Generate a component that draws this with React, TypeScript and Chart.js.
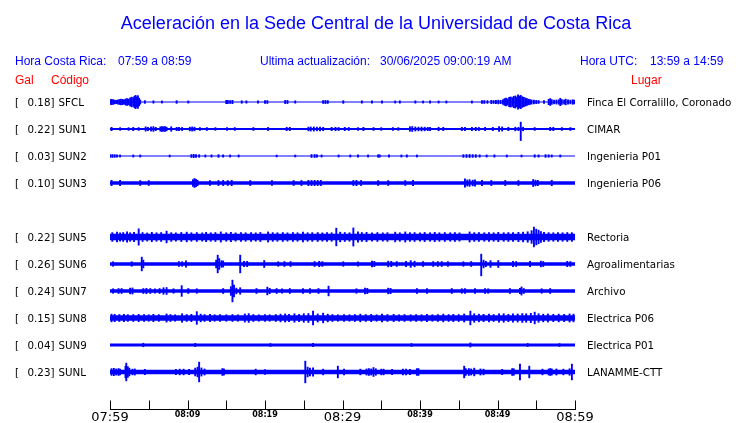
import { useEffect, useRef } from 'react';
import { Chart, registerables } from 'chart.js';

Chart.register(...registerables);

type Burst = [number, number, number?];

const TITLE = 'Aceleración en la Sede Central de la Universidad de Costa Rica';
const LOCAL_RANGE = '07:59 a 08:59';
const UTC_RANGE = '13:59 a 14:59';
const UPDATED = '30/06/2025 09:00:19 AM';

const CODES = ['SFCL', 'SUN1', 'SUN2', 'SUN3', 'SUN5', 'SUN6', 'SUN7', 'SUN8', 'SUN9', 'SUNL'];
const PEAK_GAL = ['0.18', '0.22', '0.03', '0.10', '0.22', '0.26', '0.24', '0.15', '0.04', '0.23'];
const PLACES = [
  'Finca El Corralillo, Coronado',
  'CIMAR',
  'Ingenieria P01',
  'Ingenieria P06',
  'Rectoria',
  'Agroalimentarias',
  'Archivo',
  'Electrica P06',
  'Electrica P01',
  'LANAMME-CTT',
];
// trace slot (slot 4 is empty)
const ROW_SLOTS = [0, 1, 2, 3, 5, 6, 7, 8, 9, 10];
const ROW_SPACING = 27;
// background noise half-amplitude per station (display units)
const BASE_AMP = [0.6, 1.0, 0.5, 1.8, 3.3, 1.8, 1.8, 2.7, 1.6, 2.2];

// time axis, minutes after 07:59
const TICK_MINUTES = [0, 5, 10, 15, 20, 25, 30, 35, 40, 45, 50, 55, 60];
const TICK_LABELS = ['07:59', '', '08:09', '', '08:19', '', '08:29', '', '08:39', '', '08:49', '', '08:59'];
const BIG_TICKS = [0, 6, 12];

// bursts: [minute, half-amplitude up, half-amplitude down (optional)]
const SFCL_BURSTS: Burst[] = [
  [0, 2.5], [0.2, 2.8], [0.4, 2.6], [0.6, 2.0], [0.8, 1.8], [1.0, 2.2], [1.2, 2.6], [1.4, 3.0], [1.6, 2.8], [1.8, 2.4],
  [2.0, 3.2], [2.2, 3.6], [2.4, 3.0], [2.6, 4.2], [2.8, 5.0], [3.0, 4.4], [3.15, 5.8], [3.3, 6.8], [3.45, 5.2], [3.6, 6.5],
  [3.75, 4.0], [3.9, 2.2], [4.5, 1.5], [5.6, 1.3], [6.7, 1.2], [8.6, 1.5], [10.1, 1.2], [15.0, 1.8], [15.2, 1.8], [15.5, 1.6],
  [15.8, 1.8], [17.0, 1.4], [17.6, 1.3], [19.1, 1.3], [20.0, 1.6], [20.3, 1.6], [22.6, 1.7], [22.9, 1.7], [23.9, 1.3], [27.5, 1.6],
  [27.8, 1.7], [28.1, 1.6], [30.1, 1.5], [32.5, 1.3], [33.8, 1.2], [35.1, 1.3], [36.8, 1.2], [37.4, 1.3], [39.4, 1.3], [40.4, 1.2],
  [41.3, 1.3], [42.4, 1.2], [43.4, 1.2], [46.7, 1.2], [48.0, 1.6], [48.3, 1.6], [48.7, 1.5], [49.2, 1.8], [49.5, 1.6], [49.8, 1.8],
  [50.1, 2.0], [50.4, 1.8], [50.7, 2.5], [50.9, 3.5], [51.1, 4.0], [51.3, 3.2], [51.5, 4.8], [51.7, 5.2], [51.9, 4.5], [52.1, 5.8],
  [52.3, 6.2], [52.5, 5.0], [52.65, 7.2], [52.8, 6.0], [53.0, 6.8], [53.2, 5.5], [53.4, 4.8], [53.6, 4.2], [53.8, 3.6], [54.0, 3.0],
  [54.2, 2.6], [54.4, 2.2], [54.7, 2.0], [55.0, 1.8], [55.3, 1.6], [56.0, 1.5], [56.6, 2.8], [56.8, 3.6], [57.0, 2.5], [57.3, 2.0],
  [57.6, 2.2], [57.9, 2.4], [58.1, 3.8], [58.3, 2.6], [58.6, 2.2], [58.8, 3.0], [59.1, 2.3], [59.4, 2.0], [59.7, 2.4], [59.9, 2.0],
];
const SUN1_BURSTS: Burst[] = [
  [0.2, 1.8], [1.3, 1.5], [2.4, 1.5], [3.0, 1.8], [3.7, 1.6], [4.6, 2.3], [4.9, 1.8], [5.3, 2.2], [5.6, 2.5], [5.9, 1.8],
  [6.5, 2.3], [6.7, 2.6], [6.9, 2.4], [7.1, 2.6], [7.3, 2.0], [7.9, 2.4], [8.6, 1.8], [8.9, 1.8], [9.3, 1.7], [10.3, 2.0],
  [10.6, 2.2], [10.9, 2.0], [11.6, 1.6], [12.5, 1.6], [13.6, 1.5], [15.1, 1.6], [16.1, 1.6], [18.5, 1.6], [20.4, 1.7], [22.8, 1.8],
  [23.2, 1.8], [25.6, 2.0], [25.9, 2.2], [26.3, 2.2], [26.7, 2.0], [27.1, 2.1], [27.5, 1.8], [28.6, 1.8], [29.1, 1.9], [29.5, 1.7],
  [30.3, 1.8], [30.8, 1.7], [32.0, 1.6], [32.7, 1.8], [34.0, 1.6], [35.0, 1.5], [36.5, 1.6], [37.2, 1.5], [38.7, 2.4], [39.0, 2.6],
  [39.4, 2.2], [39.8, 2.0], [40.2, 2.1], [40.6, 2.0], [41.0, 1.8], [41.3, 1.8], [42.4, 1.9], [43.0, 1.8], [45.4, 1.8], [45.8, 1.9],
  [46.7, 1.8], [47.2, 1.8], [47.6, 1.7], [48.4, 1.8], [49.4, 1.8], [50.2, 2.6], [50.6, 2.2], [51.4, 1.8], [52.3, 2.0], [52.7, 1.8],
  [53.0, 7.0, 11.7], [53.3, 2.0], [54.8, 1.6], [56.8, 1.8], [57.2, 1.8], [58.3, 1.6], [59.4, 1.6],
];
const SUN2_BURSTS: Burst[] = [
  [0.0, 1.6], [0.3, 1.6], [0.6, 1.5], [0.9, 1.3], [1.3, 1.2], [3.0, 1.2], [3.9, 1.2], [7.7, 1.1], [10.5, 1.6], [10.8, 1.8],
  [11.1, 1.6], [11.5, 1.4], [12.3, 1.2], [13.1, 1.3], [14.0, 1.5], [14.6, 1.3], [15.5, 1.2], [16.6, 1.2], [21.5, 1.1], [23.9, 1.1],
  [26.0, 1.6], [26.4, 1.7], [26.7, 1.4], [27.3, 1.2], [29.5, 1.2], [31.0, 1.2], [32.0, 1.3], [33.3, 1.2], [34.6, 1.4], [34.8, 1.3],
  [36.0, 1.3], [37.6, 1.2], [38.3, 1.3], [39.6, 1.2], [45.6, 1.5], [46.0, 1.6], [46.4, 1.7], [46.8, 1.5], [47.2, 1.5], [47.7, 1.3],
  [48.6, 1.2], [49.6, 1.3], [51.2, 1.2], [53.1, 1.1], [54.8, 1.4], [55.3, 1.3], [56.2, 1.5], [56.6, 1.4], [57.0, 1.2], [58.1, 1.2],
];
const SUN3_BURSTS: Burst[] = [
  [0.2, 2.8], [1.3, 2.8], [3.9, 2.6], [5.0, 2.6], [10.7, 3.5], [10.9, 4.6], [11.1, 3.8], [11.3, 2.8], [12.9, 2.6], [14.0, 2.7],
  [14.6, 2.7], [15.2, 2.6], [15.7, 2.8], [18.1, 2.7], [20.9, 2.6], [23.7, 2.6], [24.7, 2.7], [25.6, 2.8], [26.0, 2.7], [26.4, 2.8],
  [26.8, 2.7], [27.2, 2.8], [31.4, 2.7], [31.8, 2.8], [32.4, 2.7], [34.6, 2.6], [35.9, 2.6], [38.1, 2.6], [39.1, 2.7], [45.8, 4.2],
  [46.1, 3.2], [46.4, 3.5], [46.8, 3.0], [47.1, 3.2], [48.0, 2.8], [49.2, 2.7], [51.0, 2.7], [52.7, 2.6], [54.6, 3.6], [54.9, 3.0],
  [55.2, 2.8], [57.0, 2.9],
];
const SUN5_BURSTS: Burst[] = [
  [0.3, 4.5], [0.9, 5.0], [1.3, 4.3], [1.7, 4.6], [2.2, 5.2], [2.6, 4.4], [3.1, 4.8], [3.7, 8.3], [4.2, 4.6], [4.8, 4.2],
  [5.4, 4.8], [6.0, 4.4], [6.6, 4.6], [7.3, 6.0], [7.9, 4.5], [8.5, 4.3], [9.2, 4.7], [9.9, 5.0], [10.5, 4.4], [11.2, 4.6],
  [11.9, 4.3], [12.4, 4.8], [13.0, 4.4], [13.6, 4.6], [14.3, 5.2], [15.0, 4.4], [15.6, 4.8], [16.2, 4.3], [16.9, 4.6], [17.5, 4.4],
  [18.2, 4.6], [18.8, 4.3], [19.4, 4.7], [20.4, 5.2], [21.0, 4.5], [21.6, 4.4], [22.3, 4.6], [22.9, 4.3], [23.6, 4.6], [24.2, 4.4],
  [24.9, 5.0], [25.5, 4.4], [26.1, 4.5], [26.8, 4.6], [27.4, 4.3], [28.0, 4.6], [28.6, 4.4], [29.2, 9.0], [29.7, 5.0], [30.3, 4.6],
  [30.9, 4.4], [31.4, 9.2], [32.0, 5.4], [32.5, 4.6], [33.1, 4.8], [33.8, 4.4], [34.5, 4.6], [35.2, 4.3], [35.8, 4.5], [36.8, 5.0],
  [37.4, 4.4], [38.1, 5.2], [38.7, 4.5], [39.3, 4.6], [40.0, 4.4], [40.6, 4.7], [41.3, 4.4], [41.9, 4.8], [42.5, 4.4], [43.2, 4.6],
  [43.9, 4.4], [44.5, 4.6], [45.1, 4.3], [46.4, 5.2], [47.0, 4.5], [47.6, 4.6], [48.3, 4.4], [48.9, 4.6], [49.5, 4.4], [50.1, 4.8],
  [50.8, 4.4], [51.4, 4.6], [52.0, 4.5], [52.7, 4.8], [53.3, 5.0], [53.9, 5.4], [54.4, 6.5], [54.7, 10.0], [55.0, 8.0], [55.3, 7.0],
  [55.6, 5.6], [56.0, 4.8], [56.6, 4.5], [57.2, 4.4], [57.8, 4.6], [58.4, 4.4], [59.0, 4.6], [59.6, 4.5],
];
const SUN6_BURSTS: Burst[] = [
  [0.4, 2.4], [2.8, 2.4], [4.1, 7.0], [4.3, 4.0], [8.9, 2.6], [9.3, 2.4], [9.8, 3.4], [13.7, 4.0], [13.9, 9.0], [14.1, 5.5],
  [14.4, 3.4], [14.6, 3.2], [16.8, 9.0], [17.3, 2.8], [17.7, 2.8], [19.9, 3.6], [21.7, 2.4], [22.5, 2.6], [23.3, 2.6], [26.4, 2.6],
  [27.0, 2.8], [27.4, 2.5], [30.1, 2.4], [32.0, 2.4], [33.8, 3.0], [34.1, 2.8], [35.9, 3.0], [36.3, 2.8], [37.0, 2.6], [38.2, 2.8],
  [38.8, 3.5], [39.3, 3.0], [40.4, 2.6], [41.7, 2.6], [42.3, 2.6], [42.8, 2.6], [43.6, 2.5], [45.6, 2.4], [46.6, 2.6], [47.9, 10.0, 12.0],
  [48.2, 4.0], [48.5, 2.8], [49.1, 3.5], [50.1, 3.6], [52.0, 2.8], [52.4, 2.6], [54.2, 2.8], [55.6, 3.0], [55.9, 2.6], [59.0, 2.8],
  [59.4, 2.6],
];
const SUN7_BURSTS: Burst[] = [
  [0.4, 2.4], [1.1, 2.6], [1.5, 2.6], [2.6, 3.0], [2.9, 3.2], [4.3, 2.6], [4.7, 2.8], [5.2, 2.6], [5.8, 2.4], [6.4, 2.6],
  [6.9, 3.4], [7.3, 3.6], [8.2, 2.4], [9.25, 5.5], [10.1, 2.6], [11.2, 2.4], [14.6, 2.6], [15.6, 4.5], [15.8, 11.0], [16.0, 6.0],
  [16.3, 3.0], [16.8, 3.4], [18.9, 2.6], [20.3, 4.0], [20.6, 2.8], [21.5, 2.6], [22.2, 2.4], [23.2, 2.6], [24.9, 2.6], [25.8, 2.6],
  [26.9, 2.6], [28.2, 5.0], [31.8, 2.4], [32.9, 3.0], [33.2, 2.8], [35.9, 3.0], [36.2, 2.8], [39.6, 2.6], [40.9, 2.6], [44.1, 2.6],
  [45.4, 2.4], [45.8, 2.6], [47.1, 2.6], [48.4, 2.6], [48.8, 2.4], [51.6, 2.6], [52.9, 2.8], [53.1, 4.2], [53.4, 2.6], [55.7, 2.4],
  [56.8, 2.6],
];
const SUN8_BURSTS: Burst[] = [
  [0.2, 4.0], [0.6, 3.8], [1.2, 3.6], [1.8, 3.8], [2.3, 3.5], [3.0, 3.6], [3.7, 3.8], [4.4, 3.6], [5.0, 3.4], [5.6, 3.8],
  [6.3, 3.5], [7.3, 4.2], [7.8, 3.6], [8.4, 3.4], [9.3, 4.4], [9.9, 3.6], [10.5, 3.8], [11.2, 6.5], [11.7, 4.0], [12.2, 3.6],
  [12.9, 3.8], [13.5, 3.4], [14.2, 3.6], [15.0, 3.4], [15.8, 3.6], [16.5, 3.4], [17.4, 4.2], [17.9, 4.5], [18.5, 3.6], [19.2, 3.4],
  [20.0, 3.6], [20.6, 3.4], [21.4, 3.6], [22.0, 4.0], [22.6, 4.2], [23.1, 3.8], [23.8, 4.4], [24.4, 3.8], [25.0, 4.4], [25.6, 4.6],
  [26.2, 7.0], [26.8, 4.2], [27.5, 5.0], [28.1, 4.0], [28.7, 3.6], [29.4, 3.4], [30.2, 3.6], [30.9, 3.4], [31.6, 3.6], [32.3, 4.0],
  [33.0, 3.6], [33.7, 3.8], [34.4, 3.4], [35.1, 4.0], [35.8, 3.6], [36.6, 3.8], [37.3, 3.4], [38.0, 3.6], [38.8, 3.4], [39.5, 3.6],
  [40.2, 3.4], [40.9, 3.8], [41.6, 3.4], [42.3, 3.6], [43.0, 4.0], [43.7, 3.6], [44.3, 3.8], [45.0, 3.6], [45.7, 4.2], [46.5, 7.0],
  [47.0, 4.4], [47.6, 4.0], [48.2, 3.8], [48.9, 4.0], [49.5, 3.6], [50.2, 4.2], [50.8, 4.4], [51.4, 3.8], [52.0, 4.4], [52.6, 4.2],
  [53.2, 4.6], [53.7, 4.4], [54.3, 4.8], [54.8, 6.0], [55.3, 4.4], [55.9, 4.0], [56.5, 4.2], [57.2, 3.8], [57.9, 4.0], [58.6, 3.8],
  [59.3, 4.2], [59.8, 4.0],
];
const SUN9_BURSTS: Burst[] = [
  [4.3, 1.9], [11.0, 1.8], [20.7, 1.6], [26.2, 1.7], [38.9, 1.6], [46.5, 2.2], [53.9, 1.7], [58.0, 1.6],
];
const SUNL_BURSTS: Burst[] = [
  [0.2, 3.5], [0.5, 3.8], [0.8, 3.2], [1.1, 3.6], [1.3, 3.0], [2.0, 6.0], [2.1, 9.0], [2.3, 5.5], [2.5, 4.0], [2.9, 3.0],
  [3.2, 3.2], [4.5, 2.8], [8.5, 2.8], [9.0, 3.0], [9.5, 3.0], [10.2, 2.8], [11.0, 4.0], [11.3, 5.0], [11.5, 10.0], [11.8, 4.2],
  [12.2, 3.2], [14.5, 3.6], [14.7, 3.2], [18.8, 3.0], [20.0, 2.6], [25.2, 11.0], [25.5, 5.0], [25.8, 4.0], [26.2, 4.2], [27.5, 3.0],
  [29.4, 6.0], [30.2, 3.0], [32.3, 3.0], [33.1, 3.2], [33.4, 3.6], [33.7, 3.2], [34.0, 4.6], [34.3, 3.4], [35.0, 3.0], [35.3, 3.0],
  [36.4, 2.8], [37.8, 3.0], [38.2, 3.0], [38.7, 2.8], [39.6, 3.5], [39.8, 3.6], [45.7, 6.0], [45.9, 3.6], [46.3, 3.6], [46.6, 3.2],
  [47.0, 4.0], [47.8, 3.2], [48.2, 3.0], [50.6, 2.8], [51.9, 3.6], [52.1, 3.4], [52.9, 8.0], [54.1, 6.0], [55.8, 3.0], [56.6, 3.2],
  [56.8, 3.6], [57.0, 3.2], [57.6, 3.2], [58.5, 3.0], [59.3, 3.4], [59.6, 8.0],
];
const BURSTS: Burst[][] = [
  SFCL_BURSTS, SUN1_BURSTS, SUN2_BURSTS, SUN3_BURSTS, SUN5_BURSTS,
  SUN6_BURSTS, SUN7_BURSTS, SUN8_BURSTS, SUN9_BURSTS, SUNL_BURSTS,
];

const BLUE = '#0000ff';
const RED = '#ff0000';

const textPlugin = {
  id: 'seismoText',
  afterDraw(chart: any) {
    const { ctx, chartArea, scales } = chart;
    const ys = scales.y;
    const xs = scales.x;
    ctx.save();
    ctx.textBaseline = 'alphabetic';

    ctx.fillStyle = BLUE;
    ctx.textAlign = 'center';
    ctx.font = "18px 'Liberation Sans'";
    ctx.fillText(TITLE, 376, 29);

    ctx.textAlign = 'left';
    ctx.font = "12px 'Liberation Sans'";
    ctx.fillText('Hora Costa Rica:', 15, 65);
    ctx.fillText(LOCAL_RANGE, 118, 65);
    ctx.fillText('Ultima actualización:', 260, 65);
    ctx.fillText(UPDATED, 380, 65);
    ctx.fillText('Hora UTC:', 580, 65);
    ctx.fillText(UTC_RANGE, 650, 65);

    ctx.fillStyle = RED;
    ctx.fillText('Gal', 15, 84);
    ctx.fillText('Código', 51, 84);
    ctx.fillText('Lugar', 631, 84);

    ctx.fillStyle = '#000';
    ctx.font = "10.3px 'DejaVu Sans'";
    CODES.forEach((code, i) => {
      const py = ys.getPixelForValue(ROW_SLOTS[i] * ROW_SPACING) + 4.2;
      ctx.fillText('[', 15, py);
      ctx.fillText(PEAK_GAL[i] + ']', 27.5, py);
      ctx.fillText(code, 58.5, py);
      ctx.fillText(PLACES[i], 587, py);
    });

    // time axis line and upward tick marks
    ctx.strokeStyle = '#000';
    ctx.lineWidth = 1;
    ctx.beginPath();
    const by = Math.round(chartArea.bottom) + 0.5;
    ctx.moveTo(chartArea.left, by);
    ctx.lineTo(chartArea.right + 1, by);
    TICK_MINUTES.forEach((m) => {
      const px = Math.round(xs.getPixelForValue(m)) + 0.5;
      ctx.moveTo(px, by - 9);
      ctx.lineTo(px, by);
    });
    ctx.stroke();
    ctx.restore();
  },
};

export default function App() {
  const ref = useRef<HTMLCanvasElement | null>(null);

  useEffect(() => {
    if (!ref.current) return;
    const datasets: any[] = [];
    CODES.forEach((_, i) => {
      const c = ROW_SLOTS[i] * ROW_SPACING;
      const b = BASE_AMP[i];
      datasets.push({
        type: 'line',
        data: [{ x: 0, y: c - b }, { x: 60, y: c - b }],
        fill: { value: c + b },
        backgroundColor: BLUE,
        borderWidth: 0,
        pointRadius: 0,
        order: 2,
      });
      datasets.push({
        type: 'bar',
        data: BURSTS[i].map(([t, up, down]) => ({ x: t, y: [c - up, c + (down ?? up)] })),
        backgroundColor: BLUE,
        barThickness: 1.5,
        inflateAmount: 0.2,
        grouped: false,
        order: 1,
      });
    });

    const chart = new Chart(ref.current, {
      type: 'bar',
      data: { datasets },
      options: {
        animation: false,
        responsive: false,
        events: [],
        layout: { padding: { left: 110, right: 165, top: 89, bottom: 0 } },
        plugins: { legend: { display: false }, tooltip: { enabled: false } },
        scales: {
          x: {
            type: 'linear',
            min: 0,
            max: 60,
            offset: false,
            afterBuildTicks: (s: any) => {
              s.ticks = TICK_MINUTES.map((v) => ({ value: v }));
            },
            afterFit: (s: any) => {
              s.height = 14;
              s.paddingLeft = 0;
              s.paddingRight = 0;
            },
            grid: { display: false, drawTicks: false },
            border: { display: false },
            ticks: {
              autoSkip: false,
              maxRotation: 0,
              padding: 1,
              color: '#000',
              callback: (_v: any, i: number) => TICK_LABELS[i],
              font: (ctx: any) =>
                BIG_TICKS.includes(ctx.index)
                  ? { family: 'DejaVu Sans', size: 13 }
                  : { family: 'DejaVu Sans', size: 8, weight: 'bold' },
            },
          },
          y: {
            type: 'linear',
            min: -13,
            max: 307,
            reverse: true,
            display: false,
          },
        },
      },
      plugins: [textPlugin],
    } as any);
    return () => chart.destroy();
  }, []);

  return (
    <div style={{ position: 'fixed', left: 0, top: 0, width: 740, height: 423, background: '#fff' }}>
      <canvas ref={ref} width={740} height={423} style={{ display: 'block' }} />
    </div>
  );
}
